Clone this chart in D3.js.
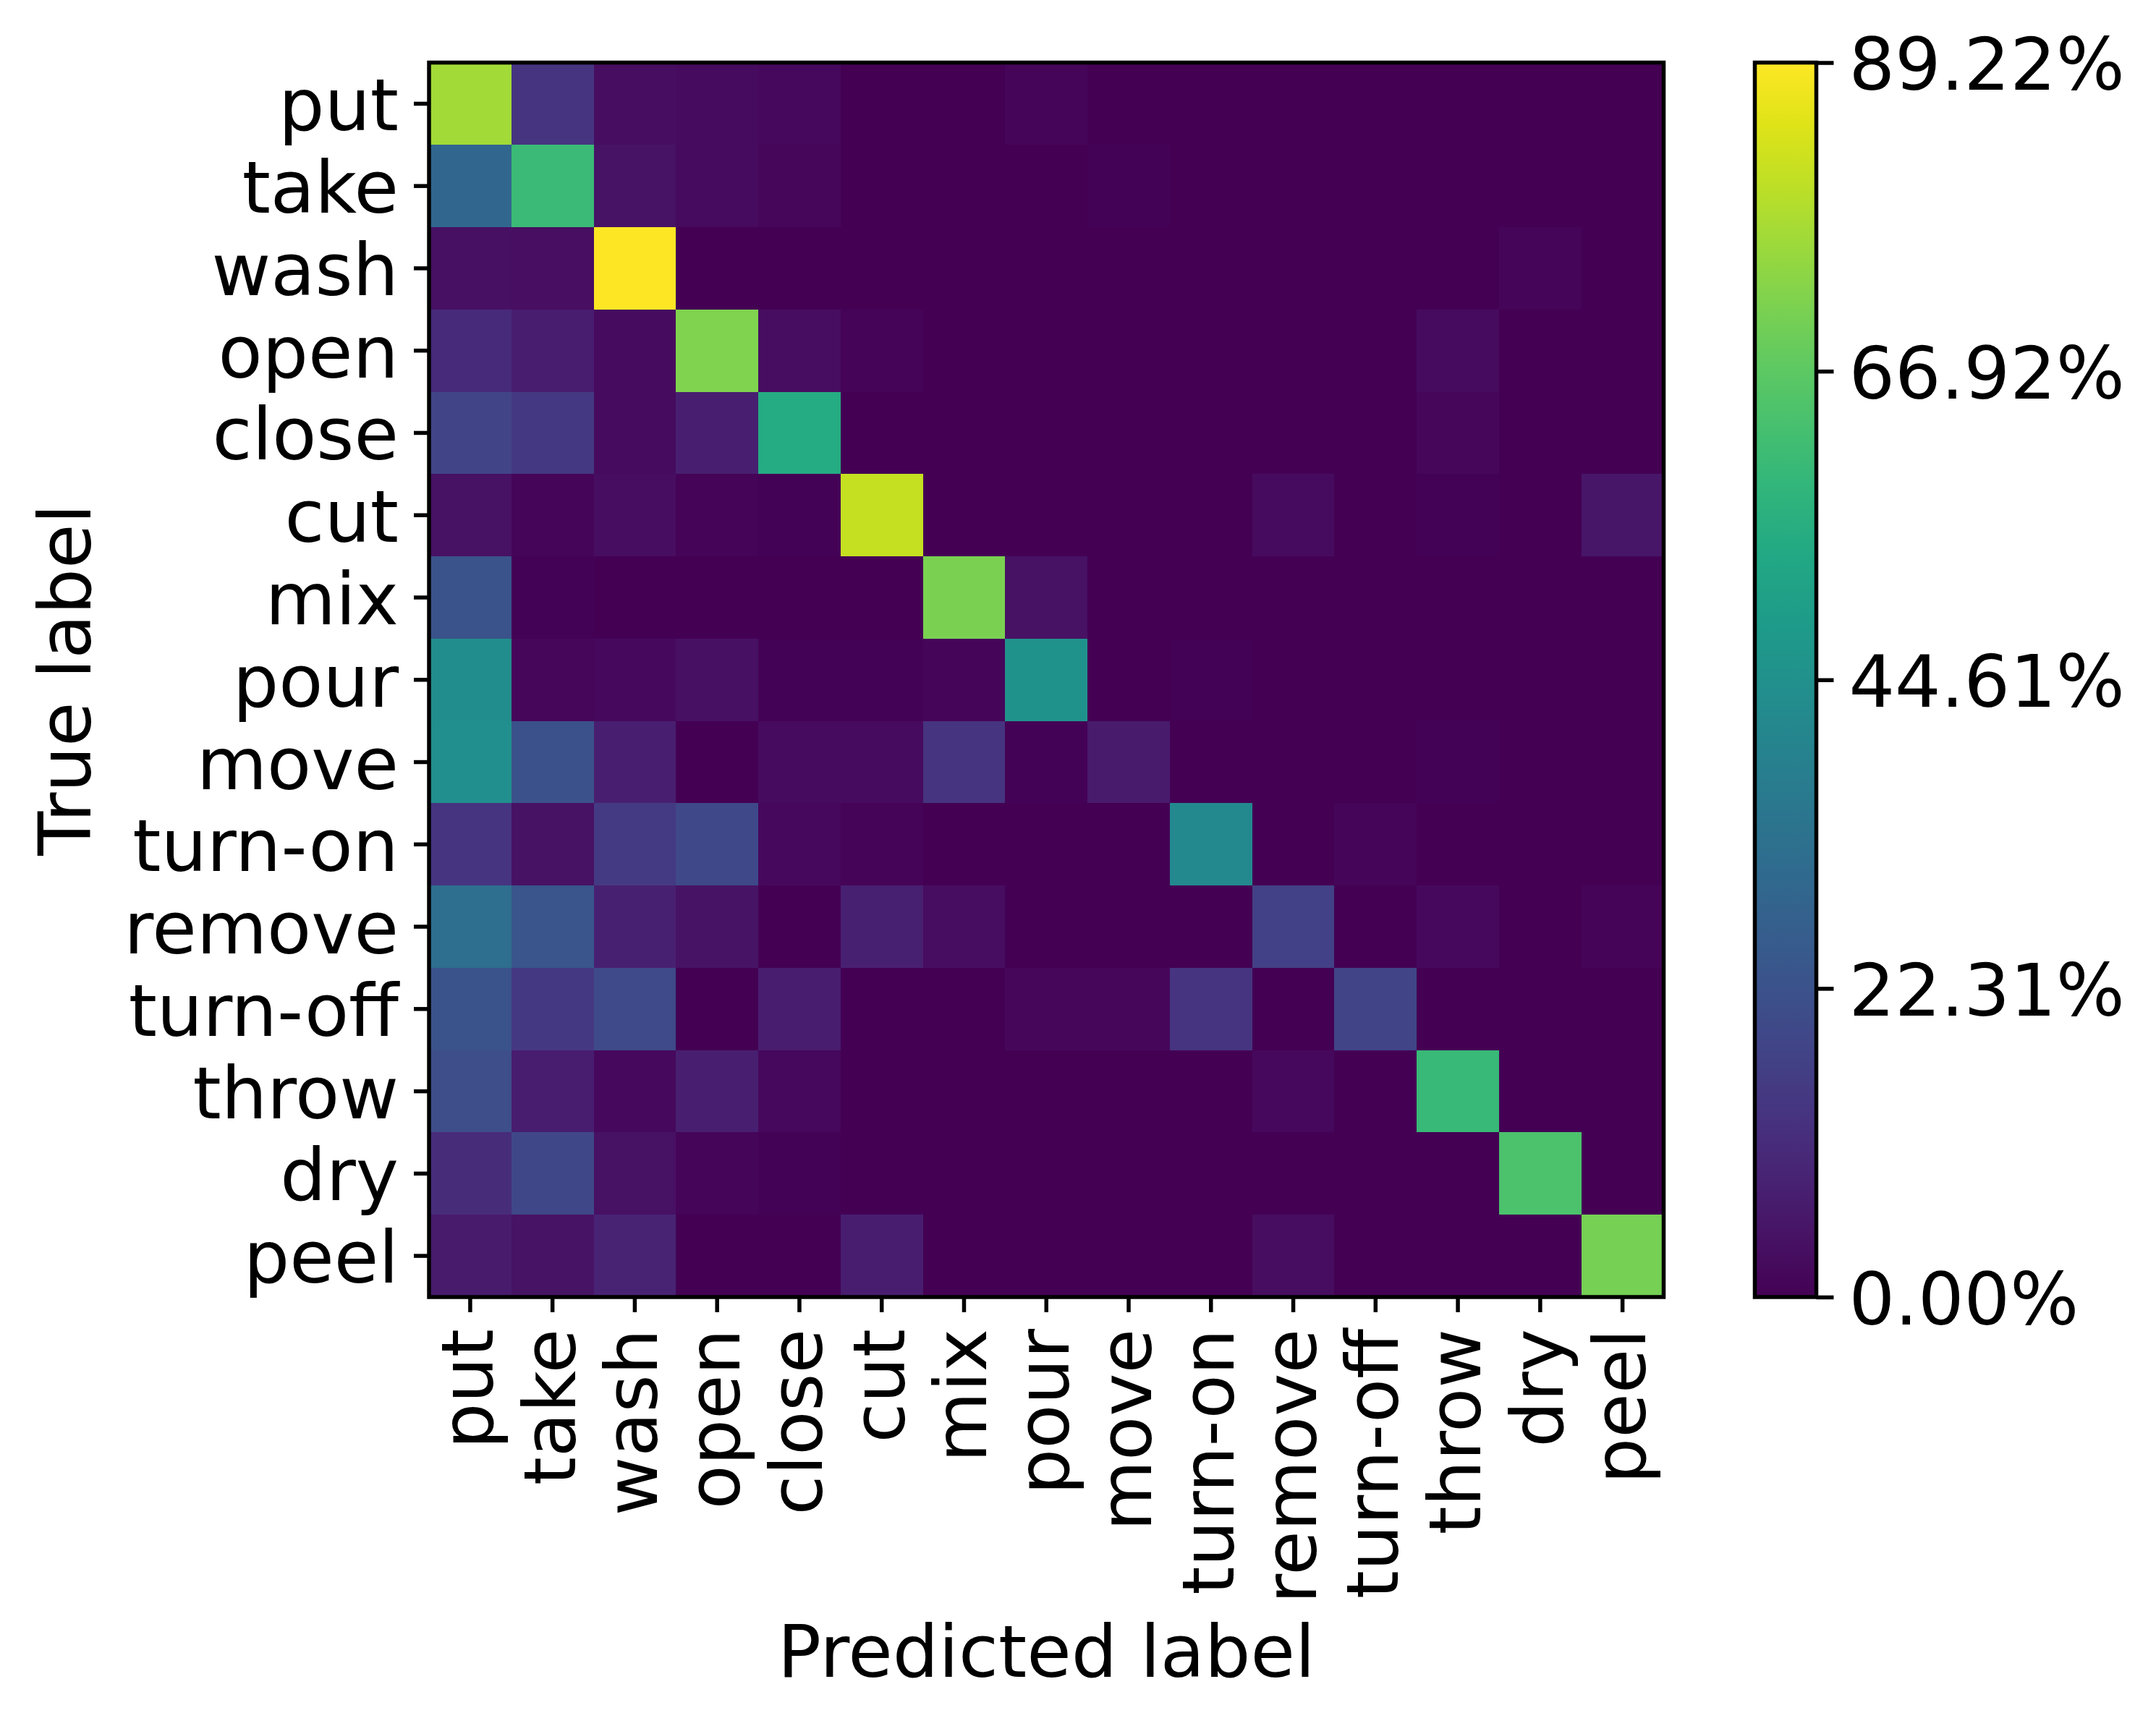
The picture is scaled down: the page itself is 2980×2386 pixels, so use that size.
<!DOCTYPE html>
<html>
<head>
<meta charset="utf-8">
<script src="https://cdn.jsdelivr.net/npm/d3@7"></script>
<style>
  body { margin: 0; background: #fff; }
  text { font-family: "DejaVu Sans", sans-serif; fill: #000; }
</style>
</head>
<body>
<div class="chart"></div>
<script>
const classes = ["put", "take", "wash", "open", "close", "cut", "mix", "pour",
  "move", "turn-on", "remove", "turn-off", "throw", "dry", "peel"];

// rows = true label, columns = predicted label (percent)
const rowPut     = [77.0, 13.5, 2.8, 2.6, 1.8, 0.3, 0.3, 1.2, 0.3, 0.1, 0.0, 0.0, 0.0, 0.0, 0.0];
const rowTake    = [29.5, 60.5, 4.5, 2.5, 1.5, 0.3, 0.3, 0.2, 0.5, 0.2, 0.0, 0.0, 0.0, 0.0, 0.0];
const rowWash    = [3.5, 3.2, 89.22, 0.0, 0.0, 0.1, 0.1, 0.1, 0.1, 0.3, 0.1, 0.1, 0.1, 1.2, 0.1];
const rowOpen    = [10.5, 7.0, 2.5, 72.0, 2.8, 1.0, 0.1, 0.1, 0.1, 0.1, 0.1, 0.1, 2.5, 0.1, 0.1];
const rowClose   = [18.0, 14.5, 2.5, 7.5, 55.0, 0.1, 0.1, 0.1, 0.1, 0.1, 0.1, 0.1, 1.6, 0.1, 0.1];
const rowCut     = [4.0, 1.2, 3.0, 0.7, 0.4, 81.5, 0.3, 0.3, 0.3, 0.3, 2.5, 0.1, 0.5, 0.1, 5.0];
const rowMix     = [23.0, 0.5, 0.2, 0.3, 0.3, 0.3, 71.4, 4.0, 0.0, 0.0, 0.0, 0.0, 0.0, 0.0, 0.0];
const rowPour    = [43.5, 1.5, 1.8, 3.8, 0.5, 0.4, 1.2, 45.0, 0.2, 0.6, 0.3, 0.1, 0.3, 0.0, 0.0];
const rowMove    = [44.0, 22.0, 7.5, 0.0, 2.5, 2.5, 13.5, 0.4, 6.5, 0.3, 0.3, 0.3, 0.5, 0.3, 0.3];
const rowTurnOn  = [13.5, 4.0, 15.0, 19.5, 1.8, 1.0, 0.3, 0.3, 0.3, 42.0, 0.3, 1.2, 0.3, 0.0, 0.0];
const rowRemove  = [32.0, 23.5, 8.0, 4.5, 0.3, 8.0, 3.0, 0.3, 0.3, 0.2, 17.0, 0.3, 2.0, 0.3, 1.0];
const rowTurnOff = [23.0, 14.5, 20.0, 0.0, 7.0, 0.0, 0.0, 1.5, 1.5, 13.5, 0.3, 18.0, 0.0, 0.0, 0.0];
const rowThrow   = [21.0, 7.0, 2.0, 7.5, 2.0, 0.1, 0.1, 0.1, 0.1, 0.1, 2.0, 0.1, 60.0, 0.1, 0.1];
const rowDry     = [11.0, 19.0, 4.0, 1.2, 0.5, 0.1, 0.1, 0.1, 0.1, 0.1, 0.1, 0.1, 0.1, 64.0, 0.1];
const rowPeel    = [6.5, 4.5, 8.5, 0.0, 0.0, 7.0, 0.1, 0.1, 0.1, 0.1, 3.0, 0.1, 0.1, 0.1, 70.5];
const matrix = [rowPut, rowTake, rowWash, rowOpen, rowClose, rowCut, rowMix, rowPour,
  rowMove, rowTurnOn, rowRemove, rowTurnOff, rowThrow, rowDry, rowPeel];

const maxValue = 89.22;
const cbarTicks = [0, 22.305, 44.61, 66.915, 89.22];
const cbarLabels = ["0.00%", "22.31%", "44.61%", "66.92%", "89.22%"];

const svgWidth = 2980;
const svgHeight = 2386;
const fontSize = 100;
const tickLen = 21;
const lineW = 5.5;

// axes box of the heatmap
const plotLeft = 593, plotTop = 86.5, plotSize = 1706.5;
// colorbar box
const cbLeft = 2425.5, cbWidth = 85;

const svg = d3.select("div.chart").append("svg")
  .attr("width", svgWidth)
  .attr("height", svgHeight)
  .style("font-size", fontSize + "px");

svg.append("rect").attr("width", svgWidth).attr("height", svgHeight).attr("fill", "#fff");

const x = d3.scaleBand().domain(classes).range([plotLeft, plotLeft + plotSize]);
const y = d3.scaleBand().domain(classes).range([plotTop, plotTop + plotSize]);
const color = d3.scaleSequential(d3.interpolateViridis).domain([0, maxValue]);

const cells = [];
matrix.forEach((row, i) => row.forEach((v, j) => cells.push({ t: classes[i], p: classes[j], v: v })));

svg.append("g").selectAll("rect")
  .data(cells)
  .enter()
  .append("rect")
  .attr("x", d => x(d.p))
  .attr("y", d => y(d.t))
  .attr("width", x.bandwidth() + 0.5)
  .attr("height", y.bandwidth() + 0.5)
  .attr("fill", d => color(d.v))
  .attr("shape-rendering", "crispEdges");

svg.append("rect")
  .attr("x", plotLeft).attr("y", plotTop)
  .attr("width", plotSize).attr("height", plotSize)
  .attr("fill", "none").attr("stroke", "#000").attr("stroke-width", lineW);

// axes
const xAxis = svg.append("g")
  .attr("transform", `translate(0,${plotTop + plotSize})`)
  .call(d3.axisBottom(x).tickSize(tickLen).tickSizeOuter(0).tickPadding(23));
xAxis.select(".domain").remove();
xAxis.selectAll("line").attr("stroke", "#000").attr("stroke-width", lineW);
xAxis.selectAll("text")
  .attr("font-size", fontSize)
  .attr("font-family", "DejaVu Sans")
  .attr("transform", "rotate(-90)")
  .attr("x", -(tickLen + 23))
  .attr("y", 0)
  .attr("dy", "0.31em")
  .attr("text-anchor", "end");

const yAxis = svg.append("g")
  .attr("transform", `translate(${plotLeft},0)`)
  .call(d3.axisLeft(y).tickSize(tickLen).tickSizeOuter(0).tickPadding(21));
yAxis.select(".domain").remove();
yAxis.selectAll("line").attr("stroke", "#000").attr("stroke-width", lineW);
yAxis.selectAll("text")
  .attr("font-size", fontSize)
  .attr("font-family", "DejaVu Sans")
  .attr("dy", "0.37em");

svg.append("text")
  .attr("x", plotLeft + plotSize / 2)
  .attr("y", 2318)
  .attr("text-anchor", "middle")
  .text("Predicted label");

svg.append("text")
  .attr("transform", `translate(125,${plotTop + plotSize / 2}) rotate(-90)`)
  .attr("text-anchor", "middle")
  .text("True label");

// colorbar
const grad = svg.append("defs").append("linearGradient")
  .attr("id", "cbar")
  .attr("x1", 0).attr("y1", 1).attr("x2", 0).attr("y2", 0);
grad.selectAll("stop")
  .data(d3.range(0, 1.0001, 0.05))
  .enter()
  .append("stop")
  .attr("offset", d => d)
  .attr("stop-color", d => color(d * maxValue));

svg.append("rect")
  .attr("x", cbLeft).attr("y", plotTop)
  .attr("width", cbWidth).attr("height", plotSize)
  .attr("fill", "url(#cbar)")
  .attr("stroke", "#000").attr("stroke-width", lineW);

const cbScale = d3.scaleLinear().domain([0, maxValue]).range([plotTop + plotSize, plotTop]);
const cbAxis = svg.append("g")
  .attr("transform", `translate(${cbLeft + cbWidth},0)`)
  .call(d3.axisRight(cbScale).tickValues(cbarTicks)
    .tickFormat((d, i) => cbarLabels[i])
    .tickSize(tickLen + 3).tickSizeOuter(0).tickPadding(21));
cbAxis.select(".domain").remove();
cbAxis.selectAll("line").attr("stroke", "#000").attr("stroke-width", lineW);
cbAxis.selectAll("text")
  .attr("font-size", fontSize)
  .attr("font-family", "DejaVu Sans")
  .attr("dy", "0.37em");
</script>
</body>
</html>
